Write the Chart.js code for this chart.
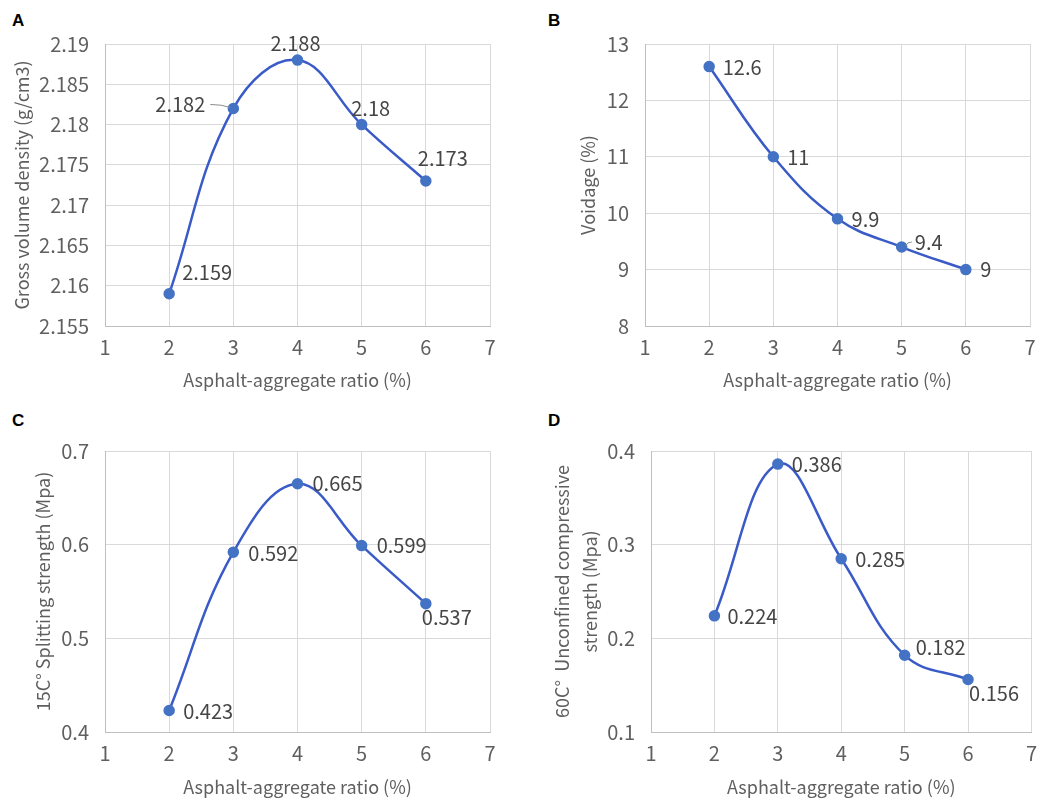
<!DOCTYPE html>
<html>
<head>
<meta charset="utf-8">
<script src="https://cdn.jsdelivr.net/npm/chart.js@4.4.0/dist/chart.umd.min.js"></script>
<style>
  html, body { margin: 0; padding: 0; background: #fff; }
  body { width: 1046px; height: 799px; position: relative; overflow: hidden; }
  canvas { position: absolute; }
  .plabel { position: absolute; font: bold 17px "Liberation Sans", Arial, sans-serif; color: #000; line-height: 1; }
</style>
</head>
<body>
<div class="plabel" style="left:12px;top:12px">A</div>
<div class="plabel" style="left:548px;top:12px">B</div>
<div class="plabel" style="left:12px;top:412px">C</div>
<div class="plabel" style="left:548px;top:412px">D</div>
<canvas id="cA" width="520" height="400" style="left:0;top:0"></canvas>
<canvas id="cB" width="526" height="400" style="left:520px;top:0"></canvas>
<canvas id="cC" width="520" height="399" style="left:0;top:400px"></canvas>
<canvas id="cD" width="526" height="399" style="left:520px;top:400px"></canvas>
<script>
// ---- data ----
const ratio = [2, 3, 4, 5, 6];
const xTicks = [1, 2, 3, 4, 5, 6, 7];
const grossDensity = [2.159, 2.182, 2.188, 2.18, 2.173];
const voidage = [12.6, 11, 9.9, 9.4, 9];
const splitting15 = [0.423, 0.592, 0.665, 0.599, 0.537];
const unconfined60 = [0.224, 0.386, 0.285, 0.182, 0.156];
const yTicksA = [2.155, 2.16, 2.165, 2.17, 2.175, 2.18, 2.185, 2.19];
const yTicksB = [8, 9, 10, 11, 12, 13];
const yTicksC = [0.4, 0.5, 0.6, 0.7];
const yTicksD = [0.1, 0.2, 0.3, 0.4];
const xTitle = 'Asphalt-aggregate ratio (%)';

// ---- styling ----
const FONT = '"Noto Sans CJK SC", "Noto Sans", sans-serif';
const FS = 20;      // numbers (ticks, data labels)
const FT = 18;      // axis titles
const TXT = '#5f5f5f';
const LBL = '#454545';
const GRID = '#d9d9d9';
const AXIS = '#bfbfbf';
const LINE = '#3a5bc7';
const PT = '#4472c4';

// label offsets (px) relative to each point, and whether a leader line is drawn
const labelStyleA = { off: [[38,-21],[-53,-4],[-2,-17],[9,-16],[17,-23]], leader: [false,true,false,false,false] };
const labelStyleB = { off: [[33,1],[25,1],[28,1],[27,-5],[20,0]], leader: [false,false,false,true,false] };
const labelStyleC = { off: [[39,1],[40,1],[40,0],[40,0],[21,14]], leader: [false,false,false,false,false] };
const labelStyleD = { off: [[38,1],[39,0],[39,1],[36,-8],[26,14]], leader: [false,false,false,false,false] };

const dataLabelPlugin = {
  id: 'dataLabels',
  afterDatasetsDraw(chart) {
    const st = chart.options.plugins.dataLabels;
    const meta = chart.getDatasetMeta(0);
    const ctx = chart.ctx;
    ctx.save();
    ctx.font = FS + 'px ' + FONT;
    ctx.fillStyle = LBL;
    ctx.textAlign = 'center';
    ctx.textBaseline = 'middle';
    meta.data.forEach((el, i) => {
      const raw = chart.data.datasets[0].data[i].y;
      const txt = String(raw);
      const [dx, dy] = st.off[i];
      const lx = el.x + dx, ly = el.y + dy;
      if (st.leader[i]) {
        const w = ctx.measureText(txt).width;
        const sx = dx < 0 ? lx + w / 2 + 5 : lx - w / 2 - 3;
        ctx.save();
        ctx.strokeStyle = '#8c8c8c';
        ctx.lineWidth = 1;
        ctx.beginPath();
        ctx.moveTo(sx, ly);
        ctx.quadraticCurveTo((sx + el.x) / 2, ly, el.x + (dx < 0 ? -3 : 4), el.y - 1);
        ctx.stroke();
        ctx.restore();
      }
      ctx.fillText(txt, lx, ly);
    });
    ctx.restore();
  }
};

function makeChart(id, values, yTicks, yTitle, geo, labelStyle, titleOpts) {
  const pts = ratio.map((x, i) => ({ x: x, y: values[i] }));
  return new Chart(document.getElementById(id), {
    type: 'line',
    data: { datasets: [{
      data: pts,
      borderColor: LINE,
      borderWidth: 2.5,
      backgroundColor: PT,
      pointBackgroundColor: PT,
      pointBorderColor: PT,
      pointRadius: 4.5,
      tension: 0.4,
      fill: false,
      clip: false
    }]},
    options: {
      responsive: false,
      animation: false,
      devicePixelRatio: 1,
      layout: { padding: { top: geo.top, right: geo.right, left: 0, bottom: 0 } },
      plugins: {
        legend: { display: false },
        tooltip: { enabled: false },
        dataLabels: labelStyle
      },
      scales: {
        x: {
          type: 'linear',
          min: xTicks[0], max: xTicks[xTicks.length - 1],
          afterBuildTicks: s => { s.ticks = xTicks.map(v => ({ value: v })); },
          afterFit: s => { s.height = geo.xh; },
          grid: { color: GRID, drawTicks: false, lineWidth: 1 },
          border: { color: AXIS, width: 1 },
          ticks: { color: TXT, font: { family: FONT, size: FS }, padding: geo.xpad, maxRotation: 0, autoSkip: false, callback: v => String(v) },
          title: { display: true, text: xTitle, color: TXT, font: { family: FONT, size: FT }, padding: { top: 0, bottom: geo.xtpad } }
        },
        y: {
          type: 'linear',
          min: yTicks[0], max: yTicks[yTicks.length - 1],
          afterBuildTicks: s => { s.ticks = yTicks.map(v => ({ value: v })); },
          afterFit: s => { s.width = geo.yw; },
          grid: { color: GRID, drawTicks: false, lineWidth: 1 },
          border: { color: AXIS, width: 1 },
          ticks: { color: TXT, font: { family: FONT, size: FS }, padding: 16, autoSkip: false, callback: v => String(v) },
          title: Object.assign({ display: true, text: yTitle, color: TXT, font: { family: FONT, size: FT }, padding: { top: geo.ytpad, bottom: 0 } }, titleOpts || {})
        }
      }
    },
    plugins: [dataLabelPlugin]
  });
}

makeChart('cA', grossDensity, yTicksA, 'Gross volume density (g/cm3)',
  { top: 44, right: 30, yw: 105, xh: 74, xpad: 9, xtpad: 9, ytpad: 11 }, labelStyleA);
makeChart('cB', voidage, yTicksB, 'Voidage (%)',
  { top: 44, right: 16, yw: 125, xh: 74, xpad: 9, xtpad: 9, ytpad: 57 }, labelStyleB);
makeChart('cC', splitting15, yTicksC, '15C° Splitting strength (Mpa)',
  { top: 51, right: 30, yw: 105, xh: 67, xpad: 9, xtpad: 1, ytpad: 32 }, labelStyleC);
makeChart('cD', unconfined60, yTicksD, ['60C°  Unconfined compressive', 'strength (Mpa)'],
  { top: 51, right: 11, yw: 131, xh: 67, xpad: 9, xtpad: 1, ytpad: 28 }, labelStyleD,
  { font: { family: FONT, size: FT, lineHeight: 1.55 } });
</script>
</body>
</html>
